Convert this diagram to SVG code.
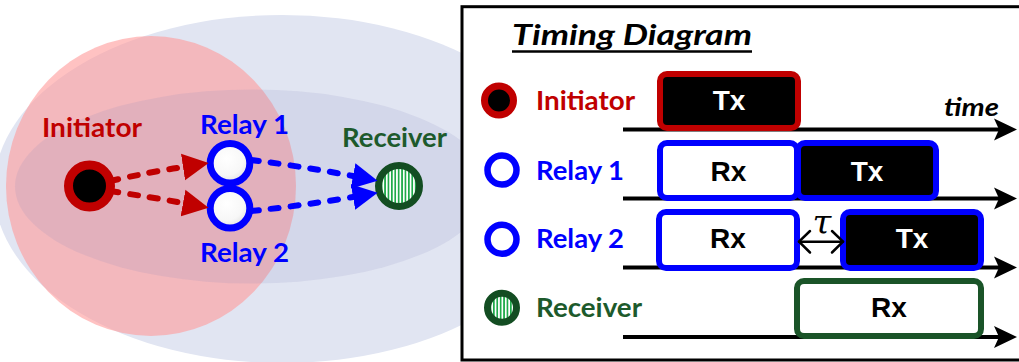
<svg xmlns="http://www.w3.org/2000/svg" width="1019" height="362" viewBox="0 0 1019 362">
<defs>
<style>
.lbl{font-family:Lato,"Open Sans","Liberation Sans",sans-serif;font-weight:700;font-size:27px}
.ttl{font-family:Lato,"Open Sans","Liberation Sans",sans-serif;font-weight:700;font-style:italic}
.red{fill:#c00000}
.blue{fill:#0000ff}
.green{fill:#1d5a2c}
.bx{font-family:"Liberation Sans",Arial,sans-serif;font-weight:700;font-size:28px;text-anchor:middle}
.axis{stroke:#000;stroke-width:4;fill:none;marker-end:url(#ax)}
.dash{fill:none;stroke-width:6;stroke-linecap:round;stroke-dasharray:8 12}
.seg{stroke-width:6}
</style>
<pattern id="stripes" patternUnits="userSpaceOnUse" width="3.4" height="10">
<rect width="3.4" height="10" fill="#ffffff"/>
<rect width="1.7" height="10" fill="#1faa4a"/>
</pattern>
<radialGradient id="relayFill" cx="0.42" cy="0.38" r="0.7">
<stop offset="0" stop-color="#ffffff"/>
<stop offset="0.6" stop-color="#f7f7f7"/>
<stop offset="1" stop-color="#d9d9d9"/>
</radialGradient>
<marker id="ah-red" markerUnits="userSpaceOnUse" viewBox="0 -14 28 28" refX="0" refY="0" markerWidth="28" markerHeight="28" orient="auto">
<path d="M0,-13.5 L26,0 L0,13.5 z" fill="#c00000"/>
</marker>
<marker id="ah-blue" markerUnits="userSpaceOnUse" viewBox="0 -14 28 28" refX="0" refY="0" markerWidth="28" markerHeight="28" orient="auto">
<path d="M0,-13 L25,0 L0,13 z" fill="#0000ff"/>
</marker>
<marker id="ax" markerUnits="userSpaceOnUse" viewBox="0 -12 24 24" refX="5" refY="0" markerWidth="24" markerHeight="24" orient="auto">
<path d="M0,-11 L23,0 L0,11 L5,0 z" fill="#000"/>
</marker>
</defs>

<g id="coverage">
<ellipse cx="282" cy="189" rx="288" ry="174" fill="#e1e5f2"/>
<ellipse cx="151" cy="186" rx="145" ry="150" fill="#ff9999" opacity="0.6"/>
<ellipse cx="252" cy="186.5" rx="237" ry="97" fill="rgb(132,136,189)" opacity="0.15"/>
</g>

<g id="node-initiator">
<circle cx="89.5" cy="186" r="21" fill="#000" stroke="#c00000" stroke-width="9"/>
<text class="lbl red" x="42" y="137" textLength="100" lengthAdjust="spacingAndGlyphs">Initiator</text>
</g>
<g id="node-relay1">
<circle cx="230" cy="163.3" r="19.8" fill="url(#relayFill)" stroke="#0000ff" stroke-width="7"/>
<text class="lbl blue" x="200" y="134" textLength="89" lengthAdjust="spacingAndGlyphs">Relay 1</text>
</g>
<g id="node-relay2">
<circle cx="230" cy="208.3" r="19.8" fill="url(#relayFill)" stroke="#0000ff" stroke-width="7"/>
<text class="lbl blue" x="200" y="262" textLength="89" lengthAdjust="spacingAndGlyphs">Relay 2</text>
</g>
<g id="node-receiver">
<circle cx="399" cy="186" r="20.5" fill="url(#stripes)" stroke="#134d22" stroke-width="7"/>
<text class="lbl green" x="342" y="147" textLength="105" lengthAdjust="spacingAndGlyphs">Receiver</text>
</g>

<g id="connectors">
<path class="dash" stroke="#c00000" d="M110,181 Q150,172 183,167" marker-end="url(#ah-red)"/>
<path class="dash" stroke="#c00000" d="M110,191 Q150,197 183,203" marker-end="url(#ah-red)"/>
<path class="dash" stroke="#0000ff" d="M251,160 Q300,166 353,176" marker-end="url(#ah-blue)"/>
<path class="dash" stroke="#0000ff" d="M251,211 Q300,206 353,197" marker-end="url(#ah-blue)"/>
</g>

<g id="timing-diagram">
<rect x="462" y="6.7" width="570" height="353.3" fill="#ffffff" stroke="#000" stroke-width="3"/>
<text class="ttl" x="512" y="45" font-size="28" textLength="240" lengthAdjust="spacingAndGlyphs">Timing Diagram</text>
<line x1="512" y1="51.5" x2="752" y2="51.5" stroke="#000" stroke-width="2.5"/>
<text class="ttl" x="944" y="116" font-size="25" textLength="55" lengthAdjust="spacingAndGlyphs">time</text>

<g id="row-initiator">
<circle cx="499" cy="100.5" r="14.5" fill="#000" stroke="#c00000" stroke-width="7"/>
<text class="lbl red" x="536" y="110" textLength="99" lengthAdjust="spacingAndGlyphs">Initiator</text>
<line class="axis" x1="623" y1="129.5" x2="999" y2="129.5"/>
<rect class="seg" x="660" y="74" width="138" height="54" rx="7" fill="#000" stroke="#c00000"/>
<text class="bx" x="729" y="110" fill="#fff">Tx</text>
</g>

<g id="row-relay1">
<circle cx="502" cy="170" r="14.5" fill="#fff" stroke="#0000ff" stroke-width="6.5"/>
<text class="lbl blue" x="536" y="180" textLength="88" lengthAdjust="spacingAndGlyphs">Relay 1</text>
<line class="axis" x1="623" y1="198.5" x2="999" y2="198.5"/>
<rect class="seg" x="660" y="143" width="137" height="55" rx="7" fill="#fff" stroke="#0000ff"/>
<rect class="seg" x="798" y="143" width="138" height="55" rx="7" fill="#000" stroke="#0000ff"/>
<text class="bx" x="728.5" y="180.5" fill="#000">Rx</text>
<text class="bx" x="867" y="180.5" fill="#fff">Tx</text>
</g>

<g id="row-relay2">
<circle cx="502" cy="239.3" r="14.5" fill="#fff" stroke="#0000ff" stroke-width="6.5"/>
<text class="lbl blue" x="536" y="248.3" textLength="88" lengthAdjust="spacingAndGlyphs">Relay 2</text>
<line class="axis" x1="623" y1="267.5" x2="999" y2="267.5"/>
<rect class="seg" x="659" y="212" width="138" height="56" rx="7" fill="#fff" stroke="#0000ff"/>
<rect class="seg" x="843" y="212" width="138" height="56" rx="7" fill="#000" stroke="#0000ff"/>
<text class="bx" x="728" y="248.3" fill="#000">Rx</text>
<text class="bx" x="912" y="248.3" fill="#fff">Tx</text>
<g id="tau" stroke="#000" stroke-width="2.5" fill="none" stroke-linecap="round" stroke-linejoin="round">
<line x1="799" y1="241.7" x2="843" y2="241.7"/>
<polyline points="810,231 799,241.7 810,252.5"/>
<polyline points="832,231 843,241.7 832,252.5"/>
</g>
<text x="822" y="234" font-family="'DejaVu Serif','Liberation Serif',serif" font-style="italic" font-size="34" text-anchor="middle" fill="#000">τ</text>
</g>

<g id="row-receiver">
<circle cx="502" cy="307.7" r="14.5" fill="url(#stripes)" stroke="#134d22" stroke-width="7"/>
<text class="lbl green" x="536" y="316.7" textLength="106" lengthAdjust="spacingAndGlyphs">Receiver</text>
<line class="axis" x1="623" y1="337" x2="999" y2="337"/>
<rect class="seg" x="797" y="281" width="184" height="55" rx="7" fill="#fff" stroke="#1a5428"/>
<text class="bx" x="889" y="317" fill="#000">Rx</text>
</g>
</g>
</svg>
